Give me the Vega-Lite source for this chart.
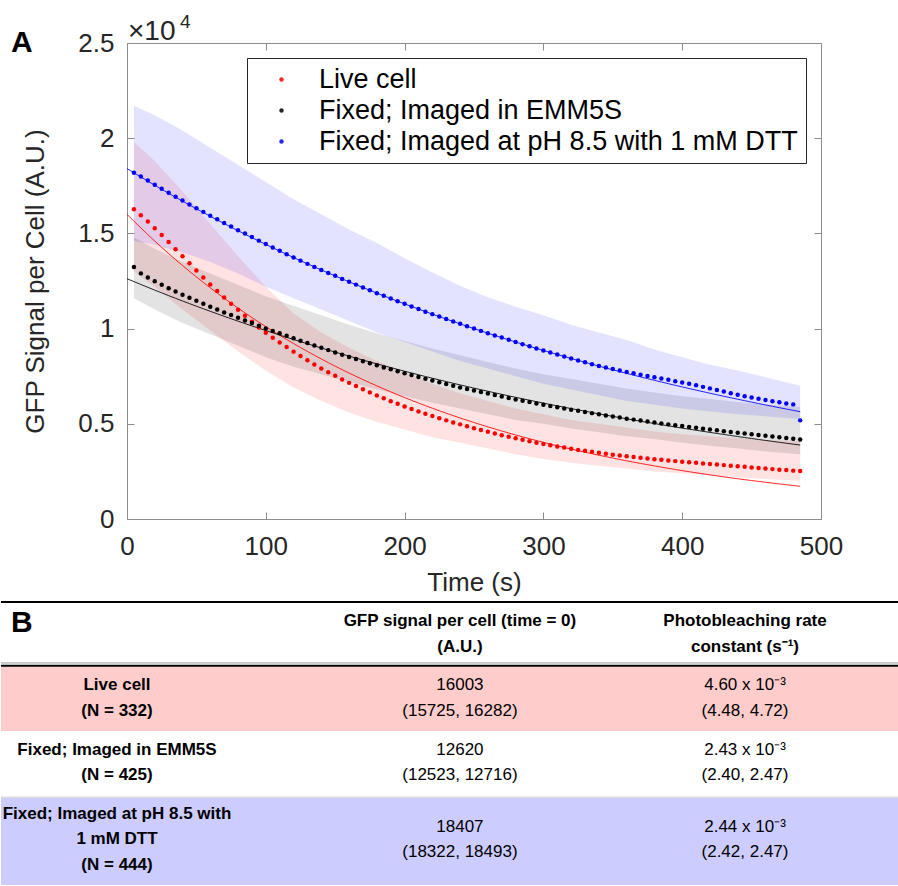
{
  "$schema": "https://vega.github.io/schema/vega-lite/v6.json",
  "autosize": {"type": "pad"},
  "padding": {"left": 0, "top": 12, "right": 0, "bottom": 0},
  "background": "white",
  "bounds": "flush",
  "spacing": 82,
  "config": {
    "font": "Liberation Sans",
    "text": {"font": "Liberation Sans"}
  },
  "datasets": {
    "series": [
      {"t": 0, "series": "Live cell", "signal": null, "fit": 16003},
      {"t": 5, "series": "Live cell", "signal": 16270, "fit": 15639},
      {"t": 10, "series": "Live cell", "signal": 15950, "fit": 15284},
      {"t": 15, "series": "Live cell", "signal": 15620, "fit": 14936},
      {"t": 20, "series": "Live cell", "signal": 15270, "fit": 14596},
      {"t": 25, "series": "Live cell", "signal": 14920, "fit": 14265},
      {"t": 30, "series": "Live cell", "signal": 14550, "fit": 13940},
      {"t": 35, "series": "Live cell", "signal": 14170, "fit": 13623},
      {"t": 40, "series": "Live cell", "signal": 13800, "fit": 13314},
      {"t": 45, "series": "Live cell", "signal": 13430, "fit": 13011},
      {"t": 50, "series": "Live cell", "signal": 13050, "fit": 12715},
      {"t": 55, "series": "Live cell", "signal": 12680, "fit": 12426},
      {"t": 60, "series": "Live cell", "signal": 12320, "fit": 12143},
      {"t": 65, "series": "Live cell", "signal": 11970, "fit": 11867},
      {"t": 70, "series": "Live cell", "signal": 11630, "fit": 11597},
      {"t": 75, "series": "Live cell", "signal": 11310, "fit": 11334},
      {"t": 80, "series": "Live cell", "signal": 10990, "fit": 11076},
      {"t": 85, "series": "Live cell", "signal": 10670, "fit": 10824},
      {"t": 90, "series": "Live cell", "signal": 10360, "fit": 10578},
      {"t": 95, "series": "Live cell", "signal": 10060, "fit": 10338},
      {"t": 100, "series": "Live cell", "signal": 9780, "fit": 10103},
      {"t": 105, "series": "Live cell", "signal": 9520, "fit": 9873},
      {"t": 110, "series": "Live cell", "signal": 9270, "fit": 9648},
      {"t": 115, "series": "Live cell", "signal": 9030, "fit": 9429},
      {"t": 120, "series": "Live cell", "signal": 8790, "fit": 9215},
      {"t": 125, "series": "Live cell", "signal": 8560, "fit": 9005},
      {"t": 130, "series": "Live cell", "signal": 8340, "fit": 8800},
      {"t": 135, "series": "Live cell", "signal": 8120, "fit": 8600},
      {"t": 140, "series": "Live cell", "signal": 7910, "fit": 8405},
      {"t": 145, "series": "Live cell", "signal": 7710, "fit": 8214},
      {"t": 150, "series": "Live cell", "signal": 7520, "fit": 8027},
      {"t": 155, "series": "Live cell", "signal": 7330, "fit": 7844},
      {"t": 160, "series": "Live cell", "signal": 7150, "fit": 7666},
      {"t": 165, "series": "Live cell", "signal": 6980, "fit": 7492},
      {"t": 170, "series": "Live cell", "signal": 6810, "fit": 7321},
      {"t": 175, "series": "Live cell", "signal": 6650, "fit": 7155},
      {"t": 180, "series": "Live cell", "signal": 6490, "fit": 6992},
      {"t": 185, "series": "Live cell", "signal": 6340, "fit": 6833},
      {"t": 190, "series": "Live cell", "signal": 6190, "fit": 6678},
      {"t": 195, "series": "Live cell", "signal": 6050, "fit": 6526},
      {"t": 200, "series": "Live cell", "signal": 5910, "fit": 6378},
      {"t": 205, "series": "Live cell", "signal": 5780, "fit": 6233},
      {"t": 210, "series": "Live cell", "signal": 5650, "fit": 6091},
      {"t": 215, "series": "Live cell", "signal": 5530, "fit": 5952},
      {"t": 220, "series": "Live cell", "signal": 5410, "fit": 5817},
      {"t": 225, "series": "Live cell", "signal": 5290, "fit": 5685},
      {"t": 230, "series": "Live cell", "signal": 5180, "fit": 5556},
      {"t": 235, "series": "Live cell", "signal": 5070, "fit": 5429},
      {"t": 240, "series": "Live cell", "signal": 4970, "fit": 5306},
      {"t": 245, "series": "Live cell", "signal": 4870, "fit": 5185},
      {"t": 250, "series": "Live cell", "signal": 4770, "fit": 5067},
      {"t": 255, "series": "Live cell", "signal": 4670, "fit": 4952},
      {"t": 260, "series": "Live cell", "signal": 4580, "fit": 4840},
      {"t": 265, "series": "Live cell", "signal": 4490, "fit": 4730},
      {"t": 270, "series": "Live cell", "signal": 4400, "fit": 4622},
      {"t": 275, "series": "Live cell", "signal": 4320, "fit": 4517},
      {"t": 280, "series": "Live cell", "signal": 4240, "fit": 4414},
      {"t": 285, "series": "Live cell", "signal": 4160, "fit": 4314},
      {"t": 290, "series": "Live cell", "signal": 4080, "fit": 4216},
      {"t": 295, "series": "Live cell", "signal": 4010, "fit": 4120},
      {"t": 300, "series": "Live cell", "signal": 3940, "fit": 4026},
      {"t": 305, "series": "Live cell", "signal": 3870, "fit": 3935},
      {"t": 310, "series": "Live cell", "signal": 3810, "fit": 3845},
      {"t": 315, "series": "Live cell", "signal": 3750, "fit": 3758},
      {"t": 320, "series": "Live cell", "signal": 3690, "fit": 3672},
      {"t": 325, "series": "Live cell", "signal": 3630, "fit": 3589},
      {"t": 330, "series": "Live cell", "signal": 3580, "fit": 3507},
      {"t": 335, "series": "Live cell", "signal": 3530, "fit": 3428},
      {"t": 340, "series": "Live cell", "signal": 3480, "fit": 3350},
      {"t": 345, "series": "Live cell", "signal": 3430, "fit": 3273},
      {"t": 350, "series": "Live cell", "signal": 3380, "fit": 3199},
      {"t": 355, "series": "Live cell", "signal": 3340, "fit": 3126},
      {"t": 360, "series": "Live cell", "signal": 3300, "fit": 3055},
      {"t": 365, "series": "Live cell", "signal": 3260, "fit": 2986},
      {"t": 370, "series": "Live cell", "signal": 3220, "fit": 2918},
      {"t": 375, "series": "Live cell", "signal": 3180, "fit": 2852},
      {"t": 380, "series": "Live cell", "signal": 3140, "fit": 2787},
      {"t": 385, "series": "Live cell", "signal": 3110, "fit": 2723},
      {"t": 390, "series": "Live cell", "signal": 3070, "fit": 2661},
      {"t": 395, "series": "Live cell", "signal": 3040, "fit": 2601},
      {"t": 400, "series": "Live cell", "signal": 3010, "fit": 2542},
      {"t": 405, "series": "Live cell", "signal": 2980, "fit": 2484},
      {"t": 410, "series": "Live cell", "signal": 2950, "fit": 2427},
      {"t": 415, "series": "Live cell", "signal": 2920, "fit": 2372},
      {"t": 420, "series": "Live cell", "signal": 2890, "fit": 2318},
      {"t": 425, "series": "Live cell", "signal": 2860, "fit": 2266},
      {"t": 430, "series": "Live cell", "signal": 2830, "fit": 2214},
      {"t": 435, "series": "Live cell", "signal": 2800, "fit": 2164},
      {"t": 440, "series": "Live cell", "signal": 2770, "fit": 2115},
      {"t": 445, "series": "Live cell", "signal": 2740, "fit": 2067},
      {"t": 450, "series": "Live cell", "signal": 2710, "fit": 2020},
      {"t": 455, "series": "Live cell", "signal": 2680, "fit": 1974},
      {"t": 460, "series": "Live cell", "signal": 2650, "fit": 1929},
      {"t": 465, "series": "Live cell", "signal": 2620, "fit": 1885},
      {"t": 470, "series": "Live cell", "signal": 2590, "fit": 1842},
      {"t": 475, "series": "Live cell", "signal": 2570, "fit": 1800},
      {"t": 480, "series": "Live cell", "signal": 2540, "fit": 1759},
      {"t": 485, "series": "Live cell", "signal": 2520, "fit": 1719},

      {"t": 0, "series": "Fixed; Imaged in EMM5S", "signal": null, "fit": 12620},
      {"t": 5, "series": "Fixed; Imaged in EMM5S", "signal": 13240, "fit": 12468},
      {"t": 10, "series": "Fixed; Imaged in EMM5S", "signal": 12900, "fit": 12317},
      {"t": 15, "series": "Fixed; Imaged in EMM5S", "signal": 12680, "fit": 12168},
      {"t": 20, "series": "Fixed; Imaged in EMM5S", "signal": 12490, "fit": 12021},
      {"t": 25, "series": "Fixed; Imaged in EMM5S", "signal": 12300, "fit": 11876},
      {"t": 30, "series": "Fixed; Imaged in EMM5S", "signal": 12120, "fit": 11733},
      {"t": 35, "series": "Fixed; Imaged in EMM5S", "signal": 11950, "fit": 11591},
      {"t": 40, "series": "Fixed; Imaged in EMM5S", "signal": 11780, "fit": 11451},
      {"t": 45, "series": "Fixed; Imaged in EMM5S", "signal": 11620, "fit": 11313},
      {"t": 50, "series": "Fixed; Imaged in EMM5S", "signal": 11460, "fit": 11176},
      {"t": 55, "series": "Fixed; Imaged in EMM5S", "signal": 11300, "fit": 11041},
      {"t": 60, "series": "Fixed; Imaged in EMM5S", "signal": 11150, "fit": 10908},
      {"t": 65, "series": "Fixed; Imaged in EMM5S", "signal": 11000, "fit": 10776},
      {"t": 70, "series": "Fixed; Imaged in EMM5S", "signal": 10850, "fit": 10646},
      {"t": 75, "series": "Fixed; Imaged in EMM5S", "signal": 10710, "fit": 10517},
      {"t": 80, "series": "Fixed; Imaged in EMM5S", "signal": 10570, "fit": 10390},
      {"t": 85, "series": "Fixed; Imaged in EMM5S", "signal": 10430, "fit": 10265},
      {"t": 90, "series": "Fixed; Imaged in EMM5S", "signal": 10290, "fit": 10141},
      {"t": 95, "series": "Fixed; Imaged in EMM5S", "signal": 10150, "fit": 10018},
      {"t": 100, "series": "Fixed; Imaged in EMM5S", "signal": 10010, "fit": 9897},
      {"t": 105, "series": "Fixed; Imaged in EMM5S", "signal": 9880, "fit": 9778},
      {"t": 110, "series": "Fixed; Imaged in EMM5S", "signal": 9750, "fit": 9660},
      {"t": 115, "series": "Fixed; Imaged in EMM5S", "signal": 9620, "fit": 9543},
      {"t": 120, "series": "Fixed; Imaged in EMM5S", "signal": 9490, "fit": 9428},
      {"t": 125, "series": "Fixed; Imaged in EMM5S", "signal": 9360, "fit": 9314},
      {"t": 130, "series": "Fixed; Imaged in EMM5S", "signal": 9240, "fit": 9202},
      {"t": 135, "series": "Fixed; Imaged in EMM5S", "signal": 9110, "fit": 9090},
      {"t": 140, "series": "Fixed; Imaged in EMM5S", "signal": 8990, "fit": 8981},
      {"t": 145, "series": "Fixed; Imaged in EMM5S", "signal": 8870, "fit": 8872},
      {"t": 150, "series": "Fixed; Imaged in EMM5S", "signal": 8750, "fit": 8765},
      {"t": 155, "series": "Fixed; Imaged in EMM5S", "signal": 8630, "fit": 8659},
      {"t": 160, "series": "Fixed; Imaged in EMM5S", "signal": 8510, "fit": 8555},
      {"t": 165, "series": "Fixed; Imaged in EMM5S", "signal": 8400, "fit": 8451},
      {"t": 170, "series": "Fixed; Imaged in EMM5S", "signal": 8290, "fit": 8349},
      {"t": 175, "series": "Fixed; Imaged in EMM5S", "signal": 8180, "fit": 8248},
      {"t": 180, "series": "Fixed; Imaged in EMM5S", "signal": 8070, "fit": 8149},
      {"t": 185, "series": "Fixed; Imaged in EMM5S", "signal": 7960, "fit": 8050},
      {"t": 190, "series": "Fixed; Imaged in EMM5S", "signal": 7860, "fit": 7953},
      {"t": 195, "series": "Fixed; Imaged in EMM5S", "signal": 7760, "fit": 7857},
      {"t": 200, "series": "Fixed; Imaged in EMM5S", "signal": 7660, "fit": 7762},
      {"t": 205, "series": "Fixed; Imaged in EMM5S", "signal": 7560, "fit": 7669},
      {"t": 210, "series": "Fixed; Imaged in EMM5S", "signal": 7460, "fit": 7576},
      {"t": 215, "series": "Fixed; Imaged in EMM5S", "signal": 7360, "fit": 7484},
      {"t": 220, "series": "Fixed; Imaged in EMM5S", "signal": 7270, "fit": 7394},
      {"t": 225, "series": "Fixed; Imaged in EMM5S", "signal": 7180, "fit": 7305},
      {"t": 230, "series": "Fixed; Imaged in EMM5S", "signal": 7090, "fit": 7217},
      {"t": 235, "series": "Fixed; Imaged in EMM5S", "signal": 7000, "fit": 7129},
      {"t": 240, "series": "Fixed; Imaged in EMM5S", "signal": 6910, "fit": 7043},
      {"t": 245, "series": "Fixed; Imaged in EMM5S", "signal": 6830, "fit": 6958},
      {"t": 250, "series": "Fixed; Imaged in EMM5S", "signal": 6750, "fit": 6874},
      {"t": 255, "series": "Fixed; Imaged in EMM5S", "signal": 6670, "fit": 6791},
      {"t": 260, "series": "Fixed; Imaged in EMM5S", "signal": 6590, "fit": 6709},
      {"t": 265, "series": "Fixed; Imaged in EMM5S", "signal": 6510, "fit": 6628},
      {"t": 270, "series": "Fixed; Imaged in EMM5S", "signal": 6430, "fit": 6548},
      {"t": 275, "series": "Fixed; Imaged in EMM5S", "signal": 6360, "fit": 6469},
      {"t": 280, "series": "Fixed; Imaged in EMM5S", "signal": 6280, "fit": 6391},
      {"t": 285, "series": "Fixed; Imaged in EMM5S", "signal": 6210, "fit": 6314},
      {"t": 290, "series": "Fixed; Imaged in EMM5S", "signal": 6140, "fit": 6237},
      {"t": 295, "series": "Fixed; Imaged in EMM5S", "signal": 6070, "fit": 6162},
      {"t": 300, "series": "Fixed; Imaged in EMM5S", "signal": 6000, "fit": 6088},
      {"t": 305, "series": "Fixed; Imaged in EMM5S", "signal": 5930, "fit": 6014},
      {"t": 310, "series": "Fixed; Imaged in EMM5S", "signal": 5870, "fit": 5942},
      {"t": 315, "series": "Fixed; Imaged in EMM5S", "signal": 5800, "fit": 5870},
      {"t": 320, "series": "Fixed; Imaged in EMM5S", "signal": 5740, "fit": 5799},
      {"t": 325, "series": "Fixed; Imaged in EMM5S", "signal": 5680, "fit": 5729},
      {"t": 330, "series": "Fixed; Imaged in EMM5S", "signal": 5620, "fit": 5660},
      {"t": 335, "series": "Fixed; Imaged in EMM5S", "signal": 5560, "fit": 5591},
      {"t": 340, "series": "Fixed; Imaged in EMM5S", "signal": 5500, "fit": 5524},
      {"t": 345, "series": "Fixed; Imaged in EMM5S", "signal": 5440, "fit": 5457},
      {"t": 350, "series": "Fixed; Imaged in EMM5S", "signal": 5380, "fit": 5391},
      {"t": 355, "series": "Fixed; Imaged in EMM5S", "signal": 5330, "fit": 5326},
      {"t": 360, "series": "Fixed; Imaged in EMM5S", "signal": 5270, "fit": 5262},
      {"t": 365, "series": "Fixed; Imaged in EMM5S", "signal": 5220, "fit": 5198},
      {"t": 370, "series": "Fixed; Imaged in EMM5S", "signal": 5170, "fit": 5135},
      {"t": 375, "series": "Fixed; Imaged in EMM5S", "signal": 5120, "fit": 5073},
      {"t": 380, "series": "Fixed; Imaged in EMM5S", "signal": 5070, "fit": 5012},
      {"t": 385, "series": "Fixed; Imaged in EMM5S", "signal": 5020, "fit": 4952},
      {"t": 390, "series": "Fixed; Imaged in EMM5S", "signal": 4970, "fit": 4892},
      {"t": 395, "series": "Fixed; Imaged in EMM5S", "signal": 4920, "fit": 4833},
      {"t": 400, "series": "Fixed; Imaged in EMM5S", "signal": 4880, "fit": 4774},
      {"t": 405, "series": "Fixed; Imaged in EMM5S", "signal": 4830, "fit": 4717},
      {"t": 410, "series": "Fixed; Imaged in EMM5S", "signal": 4790, "fit": 4660},
      {"t": 415, "series": "Fixed; Imaged in EMM5S", "signal": 4740, "fit": 4604},
      {"t": 420, "series": "Fixed; Imaged in EMM5S", "signal": 4700, "fit": 4548},
      {"t": 425, "series": "Fixed; Imaged in EMM5S", "signal": 4660, "fit": 4493},
      {"t": 430, "series": "Fixed; Imaged in EMM5S", "signal": 4610, "fit": 4439},
      {"t": 435, "series": "Fixed; Imaged in EMM5S", "signal": 4570, "fit": 4385},
      {"t": 440, "series": "Fixed; Imaged in EMM5S", "signal": 4530, "fit": 4332},
      {"t": 445, "series": "Fixed; Imaged in EMM5S", "signal": 4490, "fit": 4280},
      {"t": 450, "series": "Fixed; Imaged in EMM5S", "signal": 4450, "fit": 4228},
      {"t": 455, "series": "Fixed; Imaged in EMM5S", "signal": 4410, "fit": 4177},
      {"t": 460, "series": "Fixed; Imaged in EMM5S", "signal": 4370, "fit": 4127},
      {"t": 465, "series": "Fixed; Imaged in EMM5S", "signal": 4330, "fit": 4077},
      {"t": 470, "series": "Fixed; Imaged in EMM5S", "signal": 4290, "fit": 4028},
      {"t": 475, "series": "Fixed; Imaged in EMM5S", "signal": 4250, "fit": 3979},
      {"t": 480, "series": "Fixed; Imaged in EMM5S", "signal": 4210, "fit": 3931},
      {"t": 485, "series": "Fixed; Imaged in EMM5S", "signal": 4180, "fit": 3883},

      {"t": 0, "series": "Fixed; Imaged at pH 8.5 with 1 mM DTT", "signal": null, "fit": 18407},
      {"t": 5, "series": "Fixed; Imaged at pH 8.5 with 1 mM DTT", "signal": 18190, "fit": 18184},
      {"t": 10, "series": "Fixed; Imaged at pH 8.5 with 1 mM DTT", "signal": 17990, "fit": 17964},
      {"t": 15, "series": "Fixed; Imaged at pH 8.5 with 1 mM DTT", "signal": 17780, "fit": 17746},
      {"t": 20, "series": "Fixed; Imaged at pH 8.5 with 1 mM DTT", "signal": 17560, "fit": 17531},
      {"t": 25, "series": "Fixed; Imaged at pH 8.5 with 1 mM DTT", "signal": 17350, "fit": 17318},
      {"t": 30, "series": "Fixed; Imaged at pH 8.5 with 1 mM DTT", "signal": 17140, "fit": 17108},
      {"t": 35, "series": "Fixed; Imaged at pH 8.5 with 1 mM DTT", "signal": 16930, "fit": 16901},
      {"t": 40, "series": "Fixed; Imaged at pH 8.5 with 1 mM DTT", "signal": 16730, "fit": 16696},
      {"t": 45, "series": "Fixed; Imaged at pH 8.5 with 1 mM DTT", "signal": 16520, "fit": 16493},
      {"t": 50, "series": "Fixed; Imaged at pH 8.5 with 1 mM DTT", "signal": 16320, "fit": 16293},
      {"t": 55, "series": "Fixed; Imaged at pH 8.5 with 1 mM DTT", "signal": 16130, "fit": 16096},
      {"t": 60, "series": "Fixed; Imaged at pH 8.5 with 1 mM DTT", "signal": 15930, "fit": 15900},
      {"t": 65, "series": "Fixed; Imaged at pH 8.5 with 1 mM DTT", "signal": 15740, "fit": 15707},
      {"t": 70, "series": "Fixed; Imaged at pH 8.5 with 1 mM DTT", "signal": 15550, "fit": 15517},
      {"t": 75, "series": "Fixed; Imaged at pH 8.5 with 1 mM DTT", "signal": 15360, "fit": 15329},
      {"t": 80, "series": "Fixed; Imaged at pH 8.5 with 1 mM DTT", "signal": 15170, "fit": 15143},
      {"t": 85, "series": "Fixed; Imaged at pH 8.5 with 1 mM DTT", "signal": 14990, "fit": 14959},
      {"t": 90, "series": "Fixed; Imaged at pH 8.5 with 1 mM DTT", "signal": 14810, "fit": 14778},
      {"t": 95, "series": "Fixed; Imaged at pH 8.5 with 1 mM DTT", "signal": 14620, "fit": 14599},
      {"t": 100, "series": "Fixed; Imaged at pH 8.5 with 1 mM DTT", "signal": 14440, "fit": 14422},
      {"t": 105, "series": "Fixed; Imaged at pH 8.5 with 1 mM DTT", "signal": 14260, "fit": 14247},
      {"t": 110, "series": "Fixed; Imaged at pH 8.5 with 1 mM DTT", "signal": 14090, "fit": 14074},
      {"t": 115, "series": "Fixed; Imaged at pH 8.5 with 1 mM DTT", "signal": 13910, "fit": 13903},
      {"t": 120, "series": "Fixed; Imaged at pH 8.5 with 1 mM DTT", "signal": 13740, "fit": 13735},
      {"t": 125, "series": "Fixed; Imaged at pH 8.5 with 1 mM DTT", "signal": 13570, "fit": 13568},
      {"t": 130, "series": "Fixed; Imaged at pH 8.5 with 1 mM DTT", "signal": 13400, "fit": 13404},
      {"t": 135, "series": "Fixed; Imaged at pH 8.5 with 1 mM DTT", "signal": 13240, "fit": 13241},
      {"t": 140, "series": "Fixed; Imaged at pH 8.5 with 1 mM DTT", "signal": 13080, "fit": 13081},
      {"t": 145, "series": "Fixed; Imaged at pH 8.5 with 1 mM DTT", "signal": 12920, "fit": 12922},
      {"t": 150, "series": "Fixed; Imaged at pH 8.5 with 1 mM DTT", "signal": 12770, "fit": 12765},
      {"t": 155, "series": "Fixed; Imaged at pH 8.5 with 1 mM DTT", "signal": 12610, "fit": 12611},
      {"t": 160, "series": "Fixed; Imaged at pH 8.5 with 1 mM DTT", "signal": 12460, "fit": 12458},
      {"t": 165, "series": "Fixed; Imaged at pH 8.5 with 1 mM DTT", "signal": 12310, "fit": 12307},
      {"t": 170, "series": "Fixed; Imaged at pH 8.5 with 1 mM DTT", "signal": 12160, "fit": 12157},
      {"t": 175, "series": "Fixed; Imaged at pH 8.5 with 1 mM DTT", "signal": 12010, "fit": 12010},
      {"t": 180, "series": "Fixed; Imaged at pH 8.5 with 1 mM DTT", "signal": 11860, "fit": 11864},
      {"t": 185, "series": "Fixed; Imaged at pH 8.5 with 1 mM DTT", "signal": 11720, "fit": 11720},
      {"t": 190, "series": "Fixed; Imaged at pH 8.5 with 1 mM DTT", "signal": 11580, "fit": 11578},
      {"t": 195, "series": "Fixed; Imaged at pH 8.5 with 1 mM DTT", "signal": 11440, "fit": 11438},
      {"t": 200, "series": "Fixed; Imaged at pH 8.5 with 1 mM DTT", "signal": 11300, "fit": 11299},
      {"t": 205, "series": "Fixed; Imaged at pH 8.5 with 1 mM DTT", "signal": 11160, "fit": 11162},
      {"t": 210, "series": "Fixed; Imaged at pH 8.5 with 1 mM DTT", "signal": 11030, "fit": 11027},
      {"t": 215, "series": "Fixed; Imaged at pH 8.5 with 1 mM DTT", "signal": 10890, "fit": 10893},
      {"t": 220, "series": "Fixed; Imaged at pH 8.5 with 1 mM DTT", "signal": 10760, "fit": 10761},
      {"t": 225, "series": "Fixed; Imaged at pH 8.5 with 1 mM DTT", "signal": 10630, "fit": 10631},
      {"t": 230, "series": "Fixed; Imaged at pH 8.5 with 1 mM DTT", "signal": 10500, "fit": 10502},
      {"t": 235, "series": "Fixed; Imaged at pH 8.5 with 1 mM DTT", "signal": 10370, "fit": 10374},
      {"t": 240, "series": "Fixed; Imaged at pH 8.5 with 1 mM DTT", "signal": 10250, "fit": 10249},
      {"t": 245, "series": "Fixed; Imaged at pH 8.5 with 1 mM DTT", "signal": 10120, "fit": 10124},
      {"t": 250, "series": "Fixed; Imaged at pH 8.5 with 1 mM DTT", "signal": 10000, "fit": 10001},
      {"t": 255, "series": "Fixed; Imaged at pH 8.5 with 1 mM DTT", "signal": 9880, "fit": 9880},
      {"t": 260, "series": "Fixed; Imaged at pH 8.5 with 1 mM DTT", "signal": 9760, "fit": 9760},
      {"t": 265, "series": "Fixed; Imaged at pH 8.5 with 1 mM DTT", "signal": 9640, "fit": 9642},
      {"t": 270, "series": "Fixed; Imaged at pH 8.5 with 1 mM DTT", "signal": 9530, "fit": 9525},
      {"t": 275, "series": "Fixed; Imaged at pH 8.5 with 1 mM DTT", "signal": 9410, "fit": 9410},
      {"t": 280, "series": "Fixed; Imaged at pH 8.5 with 1 mM DTT", "signal": 9300, "fit": 9296},
      {"t": 285, "series": "Fixed; Imaged at pH 8.5 with 1 mM DTT", "signal": 9180, "fit": 9183},
      {"t": 290, "series": "Fixed; Imaged at pH 8.5 with 1 mM DTT", "signal": 9070, "fit": 9071},
      {"t": 295, "series": "Fixed; Imaged at pH 8.5 with 1 mM DTT", "signal": 8960, "fit": 8961},
      {"t": 300, "series": "Fixed; Imaged at pH 8.5 with 1 mM DTT", "signal": 8850, "fit": 8853},
      {"t": 305, "series": "Fixed; Imaged at pH 8.5 with 1 mM DTT", "signal": 8750, "fit": 8745},
      {"t": 310, "series": "Fixed; Imaged at pH 8.5 with 1 mM DTT", "signal": 8640, "fit": 8639},
      {"t": 315, "series": "Fixed; Imaged at pH 8.5 with 1 mM DTT", "signal": 8530, "fit": 8535},
      {"t": 320, "series": "Fixed; Imaged at pH 8.5 with 1 mM DTT", "signal": 8430, "fit": 8431},
      {"t": 325, "series": "Fixed; Imaged at pH 8.5 with 1 mM DTT", "signal": 8330, "fit": 8329},
      {"t": 330, "series": "Fixed; Imaged at pH 8.5 with 1 mM DTT", "signal": 8230, "fit": 8228},
      {"t": 335, "series": "Fixed; Imaged at pH 8.5 with 1 mM DTT", "signal": 8130, "fit": 8128},
      {"t": 340, "series": "Fixed; Imaged at pH 8.5 with 1 mM DTT", "signal": 8040, "fit": 8030},
      {"t": 345, "series": "Fixed; Imaged at pH 8.5 with 1 mM DTT", "signal": 7960, "fit": 7932},
      {"t": 350, "series": "Fixed; Imaged at pH 8.5 with 1 mM DTT", "signal": 7880, "fit": 7836},
      {"t": 355, "series": "Fixed; Imaged at pH 8.5 with 1 mM DTT", "signal": 7800, "fit": 7741},
      {"t": 360, "series": "Fixed; Imaged at pH 8.5 with 1 mM DTT", "signal": 7720, "fit": 7647},
      {"t": 365, "series": "Fixed; Imaged at pH 8.5 with 1 mM DTT", "signal": 7650, "fit": 7554},
      {"t": 370, "series": "Fixed; Imaged at pH 8.5 with 1 mM DTT", "signal": 7580, "fit": 7463},
      {"t": 375, "series": "Fixed; Imaged at pH 8.5 with 1 mM DTT", "signal": 7510, "fit": 7372},
      {"t": 380, "series": "Fixed; Imaged at pH 8.5 with 1 mM DTT", "signal": 7440, "fit": 7283},
      {"t": 385, "series": "Fixed; Imaged at pH 8.5 with 1 mM DTT", "signal": 7380, "fit": 7195},
      {"t": 390, "series": "Fixed; Imaged at pH 8.5 with 1 mM DTT", "signal": 7310, "fit": 7107},
      {"t": 395, "series": "Fixed; Imaged at pH 8.5 with 1 mM DTT", "signal": 7240, "fit": 7021},
      {"t": 400, "series": "Fixed; Imaged at pH 8.5 with 1 mM DTT", "signal": 7170, "fit": 6936},
      {"t": 405, "series": "Fixed; Imaged at pH 8.5 with 1 mM DTT", "signal": 7100, "fit": 6852},
      {"t": 410, "series": "Fixed; Imaged at pH 8.5 with 1 mM DTT", "signal": 7020, "fit": 6769},
      {"t": 415, "series": "Fixed; Imaged at pH 8.5 with 1 mM DTT", "signal": 6940, "fit": 6687},
      {"t": 420, "series": "Fixed; Imaged at pH 8.5 with 1 mM DTT", "signal": 6860, "fit": 6606},
      {"t": 425, "series": "Fixed; Imaged at pH 8.5 with 1 mM DTT", "signal": 6780, "fit": 6525},
      {"t": 430, "series": "Fixed; Imaged at pH 8.5 with 1 mM DTT", "signal": 6700, "fit": 6446},
      {"t": 435, "series": "Fixed; Imaged at pH 8.5 with 1 mM DTT", "signal": 6610, "fit": 6368},
      {"t": 440, "series": "Fixed; Imaged at pH 8.5 with 1 mM DTT", "signal": 6520, "fit": 6291},
      {"t": 445, "series": "Fixed; Imaged at pH 8.5 with 1 mM DTT", "signal": 6450, "fit": 6215},
      {"t": 450, "series": "Fixed; Imaged at pH 8.5 with 1 mM DTT", "signal": 6380, "fit": 6139},
      {"t": 455, "series": "Fixed; Imaged at pH 8.5 with 1 mM DTT", "signal": 6310, "fit": 6065},
      {"t": 460, "series": "Fixed; Imaged at pH 8.5 with 1 mM DTT", "signal": 6250, "fit": 5991},
      {"t": 465, "series": "Fixed; Imaged at pH 8.5 with 1 mM DTT", "signal": 6190, "fit": 5919},
      {"t": 470, "series": "Fixed; Imaged at pH 8.5 with 1 mM DTT", "signal": 6130, "fit": 5847},
      {"t": 475, "series": "Fixed; Imaged at pH 8.5 with 1 mM DTT", "signal": 6070, "fit": 5776},
      {"t": 480, "series": "Fixed; Imaged at pH 8.5 with 1 mM DTT", "signal": 6020, "fit": 5706},
      {"t": 485, "series": "Fixed; Imaged at pH 8.5 with 1 mM DTT", "signal": 5180, "fit": 5637}
    ],
    "bands": [
      {"t": 5, "series": "Live cell", "lo": 13000, "hi": 19800},
      {"t": 20, "series": "Live cell", "lo": 12200, "hi": 18800},
      {"t": 40, "series": "Live cell", "lo": 11000, "hi": 17200},
      {"t": 60, "series": "Live cell", "lo": 9900, "hi": 15500},
      {"t": 80, "series": "Live cell", "lo": 8800, "hi": 13800},
      {"t": 100, "series": "Live cell", "lo": 7800, "hi": 12200},
      {"t": 120, "series": "Live cell", "lo": 6900, "hi": 10800},
      {"t": 140, "series": "Live cell", "lo": 6200, "hi": 9800},
      {"t": 160, "series": "Live cell", "lo": 5600, "hi": 9000},
      {"t": 180, "series": "Live cell", "lo": 5100, "hi": 8300},
      {"t": 200, "series": "Live cell", "lo": 4700, "hi": 7700},
      {"t": 220, "series": "Live cell", "lo": 4300, "hi": 7100},
      {"t": 240, "series": "Live cell", "lo": 4000, "hi": 6600},
      {"t": 260, "series": "Live cell", "lo": 3700, "hi": 6200},
      {"t": 280, "series": "Live cell", "lo": 3400, "hi": 5800},
      {"t": 300, "series": "Live cell", "lo": 3150, "hi": 5500},
      {"t": 320, "series": "Live cell", "lo": 2950, "hi": 5200},
      {"t": 340, "series": "Live cell", "lo": 2800, "hi": 5000},
      {"t": 360, "series": "Live cell", "lo": 2650, "hi": 4800},
      {"t": 380, "series": "Live cell", "lo": 2500, "hi": 4600},
      {"t": 400, "series": "Live cell", "lo": 2400, "hi": 4450},
      {"t": 420, "series": "Live cell", "lo": 2300, "hi": 4350},
      {"t": 440, "series": "Live cell", "lo": 2200, "hi": 4250},
      {"t": 460, "series": "Live cell", "lo": 2100, "hi": 4150},
      {"t": 485, "series": "Live cell", "lo": 2000, "hi": 4100},

      {"t": 5, "series": "Fixed; Imaged in EMM5S", "lo": 11600, "hi": 14800},
      {"t": 20, "series": "Fixed; Imaged in EMM5S", "lo": 11000, "hi": 14200},
      {"t": 40, "series": "Fixed; Imaged in EMM5S", "lo": 10300, "hi": 13500},
      {"t": 60, "series": "Fixed; Imaged in EMM5S", "lo": 9700, "hi": 12900},
      {"t": 80, "series": "Fixed; Imaged in EMM5S", "lo": 9100, "hi": 12300},
      {"t": 100, "series": "Fixed; Imaged in EMM5S", "lo": 8500, "hi": 11700},
      {"t": 120, "series": "Fixed; Imaged in EMM5S", "lo": 8000, "hi": 11200},
      {"t": 140, "series": "Fixed; Imaged in EMM5S", "lo": 7600, "hi": 10700},
      {"t": 160, "series": "Fixed; Imaged in EMM5S", "lo": 7200, "hi": 10200},
      {"t": 180, "series": "Fixed; Imaged in EMM5S", "lo": 6800, "hi": 9750},
      {"t": 200, "series": "Fixed; Imaged in EMM5S", "lo": 6450, "hi": 9350},
      {"t": 220, "series": "Fixed; Imaged in EMM5S", "lo": 6100, "hi": 8950},
      {"t": 240, "series": "Fixed; Imaged in EMM5S", "lo": 5800, "hi": 8600},
      {"t": 260, "series": "Fixed; Imaged in EMM5S", "lo": 5500, "hi": 8250},
      {"t": 280, "series": "Fixed; Imaged in EMM5S", "lo": 5200, "hi": 7900},
      {"t": 300, "series": "Fixed; Imaged in EMM5S", "lo": 5000, "hi": 7600},
      {"t": 320, "series": "Fixed; Imaged in EMM5S", "lo": 4750, "hi": 7350},
      {"t": 340, "series": "Fixed; Imaged in EMM5S", "lo": 4550, "hi": 7100},
      {"t": 360, "series": "Fixed; Imaged in EMM5S", "lo": 4350, "hi": 6850},
      {"t": 380, "series": "Fixed; Imaged in EMM5S", "lo": 4200, "hi": 6650},
      {"t": 400, "series": "Fixed; Imaged in EMM5S", "lo": 4000, "hi": 6450},
      {"t": 420, "series": "Fixed; Imaged in EMM5S", "lo": 3850, "hi": 6300},
      {"t": 440, "series": "Fixed; Imaged in EMM5S", "lo": 3700, "hi": 6150},
      {"t": 460, "series": "Fixed; Imaged in EMM5S", "lo": 3550, "hi": 6000},
      {"t": 485, "series": "Fixed; Imaged in EMM5S", "lo": 3400, "hi": 5900},

      {"t": 5, "series": "Fixed; Imaged at pH 8.5 with 1 mM DTT", "lo": 14600, "hi": 21700},
      {"t": 20, "series": "Fixed; Imaged at pH 8.5 with 1 mM DTT", "lo": 14400, "hi": 21200},
      {"t": 40, "series": "Fixed; Imaged at pH 8.5 with 1 mM DTT", "lo": 14000, "hi": 20400},
      {"t": 60, "series": "Fixed; Imaged at pH 8.5 with 1 mM DTT", "lo": 13500, "hi": 19500},
      {"t": 80, "series": "Fixed; Imaged at pH 8.5 with 1 mM DTT", "lo": 12900, "hi": 18600},
      {"t": 100, "series": "Fixed; Imaged at pH 8.5 with 1 mM DTT", "lo": 12200, "hi": 17700},
      {"t": 120, "series": "Fixed; Imaged at pH 8.5 with 1 mM DTT", "lo": 11600, "hi": 16800},
      {"t": 140, "series": "Fixed; Imaged at pH 8.5 with 1 mM DTT", "lo": 11000, "hi": 16000},
      {"t": 160, "series": "Fixed; Imaged at pH 8.5 with 1 mM DTT", "lo": 10400, "hi": 15200},
      {"t": 180, "series": "Fixed; Imaged at pH 8.5 with 1 mM DTT", "lo": 9800, "hi": 14500},
      {"t": 200, "series": "Fixed; Imaged at pH 8.5 with 1 mM DTT", "lo": 9300, "hi": 13700},
      {"t": 220, "series": "Fixed; Imaged at pH 8.5 with 1 mM DTT", "lo": 8800, "hi": 12950},
      {"t": 240, "series": "Fixed; Imaged at pH 8.5 with 1 mM DTT", "lo": 8300, "hi": 12250},
      {"t": 260, "series": "Fixed; Imaged at pH 8.5 with 1 mM DTT", "lo": 7900, "hi": 11650},
      {"t": 280, "series": "Fixed; Imaged at pH 8.5 with 1 mM DTT", "lo": 7500, "hi": 11150},
      {"t": 300, "series": "Fixed; Imaged at pH 8.5 with 1 mM DTT", "lo": 7100, "hi": 10700},
      {"t": 320, "series": "Fixed; Imaged at pH 8.5 with 1 mM DTT", "lo": 6800, "hi": 10200},
      {"t": 340, "series": "Fixed; Imaged at pH 8.5 with 1 mM DTT", "lo": 6500, "hi": 9800},
      {"t": 360, "series": "Fixed; Imaged at pH 8.5 with 1 mM DTT", "lo": 6200, "hi": 9400},
      {"t": 380, "series": "Fixed; Imaged at pH 8.5 with 1 mM DTT", "lo": 6000, "hi": 8900},
      {"t": 400, "series": "Fixed; Imaged at pH 8.5 with 1 mM DTT", "lo": 5800, "hi": 8500},
      {"t": 420, "series": "Fixed; Imaged at pH 8.5 with 1 mM DTT", "lo": 5650, "hi": 8100},
      {"t": 440, "series": "Fixed; Imaged at pH 8.5 with 1 mM DTT", "lo": 5500, "hi": 7800},
      {"t": 460, "series": "Fixed; Imaged at pH 8.5 with 1 mM DTT", "lo": 5400, "hi": 7450},
      {"t": 485, "series": "Fixed; Imaged at pH 8.5 with 1 mM DTT", "lo": 5250, "hi": 7000}
    ],
    "tableRows": [
      {"sample": "Live cell", "top": 1.78, "bottom": 4.28},
      {"sample": "Fixed; Imaged at pH 8.5 with 1 mM DTT", "top": 6.87, "bottom": 10.27}
    ],
    "cells": [
      {"role": "header", "column": 2, "line": 0, "text": "GFP signal per cell (time = 0)\n(A.U.)"},
      {"role": "header", "column": 3, "line": 0, "text": "Photobleaching rate\nconstant  (s⁻¹)"},
      {"role": "sample", "column": 1, "line": 2.5, "text": "Live cell\n(N = 332)"},
      {"role": "value", "column": 2, "line": 2.5, "text": "16003\n(15725, 16282)"},
      {"role": "value", "column": 3, "line": 2.5, "text": "4.60 x 10⁻³\n(4.48, 4.72)"},
      {"role": "sample", "column": 1, "line": 5, "text": "Fixed; Imaged in EMM5S\n(N = 425)"},
      {"role": "value", "column": 2, "line": 5, "text": "12620\n(12523, 12716)"},
      {"role": "value", "column": 3, "line": 5, "text": "2.43 x 10⁻³\n(2.40, 2.47)"},
      {"role": "sample", "column": 1, "line": 7.5, "text": "Fixed; Imaged at pH 8.5 with\n1 mM DTT\n(N = 444)"},
      {"role": "value", "column": 2, "line": 8, "text": "18407\n(18322, 18493)"},
      {"role": "value", "column": 3, "line": 8, "text": "2.44 x 10⁻³\n(2.42, 2.47)"}
    ]
  },
  "vconcat": [
    {
      "width": 694,
      "height": 476,
      "view": {"stroke": "#8c8c8c", "strokeWidth": 1},
      "data": {"name": "series"},
      "resolve": {"axis": {"x": "independent", "y": "independent"}},
      "layer": [
        {
          "data": {"name": "bands"},
          "mark": {"type": "area", "fillOpacity": 0.11, "strokeWidth": 0},
          "encoding": {
            "x": {"field": "t", "type": "quantitative", "scale": {"domain": [0, 500], "nice": false, "zero": false}, "axis": null},
            "y": {"field": "lo", "type": "quantitative", "scale": {"domain": [0, 25000], "nice": false}, "axis": null},
            "y2": {"field": "hi"},
            "color": {"field": "series", "type": "nominal",
              "scale": {"domain": ["Live cell", "Fixed; Imaged in EMM5S", "Fixed; Imaged at pH 8.5 with 1 mM DTT"], "range": ["#ff0000", "#000000", "#0000ff"]}}
          }
        },
        {
          "mark": {"type": "line", "strokeWidth": 1, "opacity": 0.85},
          "encoding": {
            "x": {"field": "t", "type": "quantitative", "scale": {"domain": [0, 500], "nice": false, "zero": false},
              "axis": {"orient": "top", "values": [0, 100, 200, 300, 400, 500], "labels": false, "title": null, "domain": false, "grid": false, "tickSize": -7, "tickColor": "#8c8c8c"}},
            "y": {"field": "fit", "type": "quantitative", "scale": {"domain": [0, 25000], "nice": false},
              "axis": {"orient": "right", "values": [0, 5000, 10000, 15000, 20000, 25000], "labels": false, "title": null, "domain": false, "grid": false, "tickSize": -7, "tickColor": "#8c8c8c"}},
            "color": {"field": "series", "type": "nominal"}
          }
        },
        {
          "mark": {"type": "point", "filled": true, "size": 20, "opacity": 1},
          "encoding": {
            "x": {"field": "t", "type": "quantitative", "scale": {"domain": [0, 500], "nice": false, "zero": false},
              "axis": {"orient": "bottom", "values": [0, 100, 200, 300, 400, 500], "title": "Time (s)", "domain": false, "grid": false,
                "tickSize": -7, "tickColor": "#8c8c8c", "labelPadding": 21, "labelFontSize": 26, "labelColor": "#262626",
                "titleFontSize": 26, "titleFontWeight": "normal", "titleColor": "#262626", "titlePadding": 10, "labelFlush": false}},
            "y": {"field": "signal", "type": "quantitative", "scale": {"domain": [0, 25000], "nice": false},
              "axis": {"orient": "left", "values": [0, 5000, 10000, 15000, 20000, 25000], "labelExpr": "'' + datum.value / 10000",
                "title": "GFP Signal per Cell (A.U.)", "domain": false, "grid": false,
                "tickSize": -7, "tickColor": "#8c8c8c", "labelPadding": 20, "labelFontSize": 26, "labelColor": "#262626",
                "titleFontSize": 26, "titleFontWeight": "normal", "titleColor": "#262626", "titlePadding": 29}},
            "color": {"field": "series", "type": "nominal",
              "legend": {"orient": "none", "legendX": 120, "legendY": 15, "title": null, "fillColor": "#ffffff", "strokeColor": "#262626",
                "padding": 8, "symbolType": "circle", "symbolSize": 20, "symbolOffset": 13, "labelOffset": 24, "rowPadding": 3,
                "labelFontSize": 27, "labelLimit": 0, "labelColor": "#000000", "symbolStrokeWidth": 0, "symbolOpacity": 1}}
          }
        },
        {
          "data": {"values": [{}]},
          "mark": {"type": "text", "text": "A", "align": "left", "baseline": "alphabetic", "dx": -116, "dy": 9, "fontSize": 30, "fontWeight": "bold", "color": "#000000"},
          "encoding": {
            "x": {"datum": 0, "type": "quantitative", "scale": {"domain": [0, 500], "nice": false, "zero": false}, "axis": null},
            "y": {"datum": 25000, "type": "quantitative", "scale": {"domain": [0, 25000], "nice": false}, "axis": null}
          }
        },
        {
          "data": {"values": [{}]},
          "mark": {"type": "text", "text": "×10", "align": "left", "baseline": "alphabetic", "dx": 1, "dy": -3, "fontSize": 28, "color": "#262626"},
          "encoding": {
            "x": {"datum": 0, "type": "quantitative", "scale": {"domain": [0, 500], "nice": false, "zero": false}, "axis": null},
            "y": {"datum": 25000, "type": "quantitative", "scale": {"domain": [0, 25000], "nice": false}, "axis": null}
          }
        },
        {
          "data": {"values": [{}]},
          "mark": {"type": "text", "text": "4", "align": "left", "baseline": "alphabetic", "dx": 53, "dy": -15, "fontSize": 19, "color": "#262626"},
          "encoding": {
            "x": {"datum": 0, "type": "quantitative", "scale": {"domain": [0, 500], "nice": false, "zero": false}, "axis": null},
            "y": {"datum": 25000, "type": "quantitative", "scale": {"domain": [0, 25000], "nice": false}, "axis": null}
          }
        }
      ]
    },
    {
      "width": 694,
      "height": 284,
      "view": {"stroke": null},
      "resolve": {"scale": {"x": "independent"}},
      "layer": [
        {
          "data": {"name": "tableRows"},
          "mark": {"type": "rect"},
          "encoding": {
            "x": {"datum": 0, "type": "quantitative", "scale": {"domain": [0, 1], "range": [-126, 772]}, "axis": null},
            "x2": {"datum": 1},
            "y": {"field": "top", "type": "quantitative", "scale": {"domain": [-0.78, 10.27], "range": [0, 284], "nice": false, "zero": false}, "axis": null},
            "y2": {"field": "bottom"},
            "fill": {"field": "sample", "type": "nominal", "legend": null,
              "scale": {"domain": ["Live cell", "Fixed; Imaged at pH 8.5 with 1 mM DTT"], "range": ["#ffcccc", "#ccccff"]}}
          }
        },
        {
          "data": {"values": [{}]},
          "mark": {"type": "rule", "color": "#000000", "strokeWidth": 2},
          "encoding": {
            "x": {"datum": 0, "type": "quantitative", "scale": {"domain": [0, 1], "range": [-126, 772]}, "axis": null},
            "x2": {"datum": 1},
            "y": {"datum": -0.74, "type": "quantitative", "axis": null}
          }
        },
        {
          "data": {"values": [{}]},
          "mark": {"type": "rule", "color": "#9a9a9a", "strokeWidth": 1},
          "encoding": {
            "x": {"datum": 0, "type": "quantitative", "scale": {"domain": [0, 1], "range": [-126, 772]}, "axis": null},
            "x2": {"datum": 1},
            "y": {"datum": 1.63, "type": "quantitative", "axis": null}
          }
        },
        {
          "data": {"values": [{}]},
          "mark": {"type": "rule", "color": "#000000", "strokeWidth": 2},
          "encoding": {
            "x": {"datum": 0, "type": "quantitative", "scale": {"domain": [0, 1], "range": [-126, 772]}, "axis": null},
            "x2": {"datum": 1},
            "y": {"datum": 1.74, "type": "quantitative", "axis": null}
          }
        },
        {
          "data": {"values": [{}]},
          "mark": {"type": "rule", "color": "#d0d0d0", "strokeWidth": 1},
          "encoding": {
            "x": {"datum": 0, "type": "quantitative", "scale": {"domain": [0, 1], "range": [-126, 772]}, "axis": null},
            "x2": {"datum": 1},
            "y": {"datum": 6.85, "type": "quantitative", "axis": null}
          }
        },
        {
          "data": {"values": [{}]},
          "mark": {"type": "text", "text": "B", "align": "left", "baseline": "alphabetic", "dx": 10, "dy": 31, "fontSize": 30, "fontWeight": "bold", "color": "#000000"},
          "encoding": {
            "x": {"datum": 0, "type": "quantitative", "scale": {"domain": [0, 1], "range": [-126, 772]}, "axis": null},
            "y": {"datum": -0.78, "type": "quantitative", "axis": null}
          }
        },
        {
          "data": {"name": "cells"},
          "transform": [{"filter": "datum.role != 'value'"}],
          "mark": {"type": "text", "fontWeight": "bold", "fontSize": 17,
            "lineBreak": "\n", "lineHeight": 25.7, "align": "center", "baseline": "middle", "color": "#000000"},
          "encoding": {
            "x": {"field": "column", "type": "quantitative", "scale": {"type": "pow", "exponent": 0.65, "domain": [1, 3], "range": [-10, 618], "nice": false, "zero": false}, "axis": null},
            "y": {"field": "line", "type": "quantitative", "axis": null},
            "text": {"field": "text"}
          }
        },
        {
          "data": {"name": "cells"},
          "transform": [{"filter": "datum.role == 'value'"}],
          "mark": {"type": "text", "fontSize": 17,
            "lineBreak": "\n", "lineHeight": 25.7, "align": "center", "baseline": "middle", "color": "#000000"},
          "encoding": {
            "x": {"field": "column", "type": "quantitative", "scale": {"type": "pow", "exponent": 0.65, "domain": [1, 3], "range": [-10, 618], "nice": false, "zero": false}, "axis": null},
            "y": {"field": "line", "type": "quantitative", "axis": null},
            "text": {"field": "text"}
          }
        }
      ]
    }
  ]
}
